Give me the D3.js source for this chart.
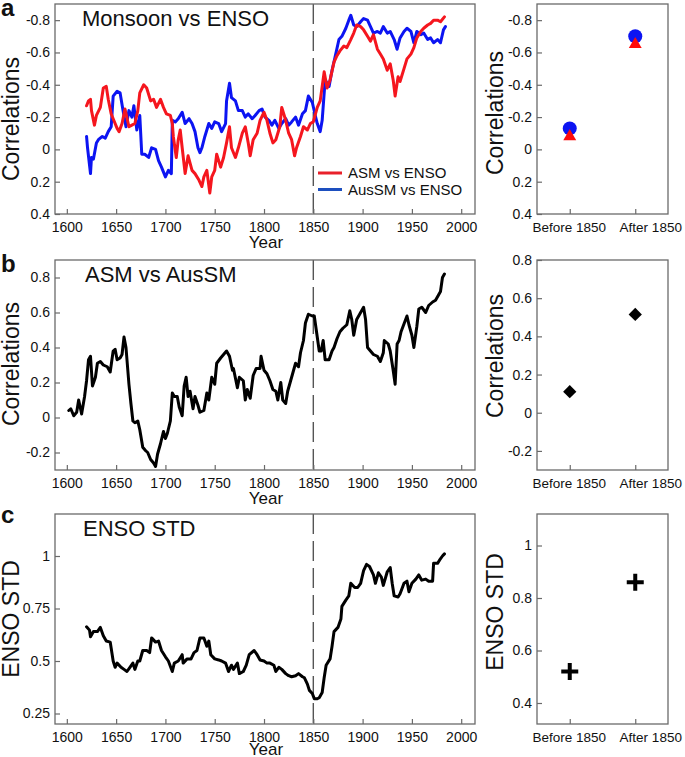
<!DOCTYPE html>
<html>
<head>
<meta charset="utf-8">
<script src="https://cdn.jsdelivr.net/npm/d3@7"></script>
<style>
  body { margin: 0; background: #fff; }
  text { font-family: "Liberation Sans", Arial, sans-serif; fill: #111; }
</style>
</head>
<body>
<svg id="chart" width="685" height="757"></svg>
<script>
// ---------------- DATA ----------------
const xTickYears = [1600, 1650, 1700, 1750, 1800, 1850, 1900, 1950, 2000];
const splitYear = 1850;
const periodCategories = ["Before 1850", "After 1850"];

// Panel a: ASM vs ENSO (red)
const asmEnsoYears = [1620,1622,1624,1625,1628,1630,1634,1637,1640,1642,
  1645,1647,1651,1653,1656,1659,1663,1666,1669,1672,
  1674,1678,1681,1685,1688,1691,1695,1698,1701,1705,
  1707,1708,1711,1713,1715,1717,1720,1723,1727,1730,
  1734,1737,1739,1742,1745,1747,1750,1752,1756,1759,
  1762,1765,1767,1771,1774,1778,1781,1784,1786,1789,
  1793,1796,1800,1803,1806,1809,1812,1816,1818,1822,
  1825,1828,1831,1833,1837,1840,1844,1847,1850,1854,
  1857,1861,1864,1867,1871,1874,1877,1881,1884,1888,
  1891,1894,1898,1901,1905,1908,1911,1915,1918,1921,
  1925,1928,1931,1933,1936,1938,1942,1945,1949,1952,
  1955,1959,1962,1966,1969,1972,1976,1979,1983];
const asmEnsoValues = [-0.27,-0.30,-0.31,-0.24,-0.15,-0.21,-0.26,-0.38,-0.39,-0.31,
  -0.22,-0.19,-0.13,-0.11,-0.16,-0.25,-0.14,-0.15,-0.16,-0.24,
  -0.35,-0.40,-0.38,-0.30,-0.31,-0.26,-0.31,-0.26,-0.22,-0.21,
  -0.16,-0.08,0.05,-0.06,-0.12,-0.01,0.15,0.04,0.13,0.15,
  0.19,0.23,0.17,0.13,0.27,0.17,0.13,0.03,0.11,0.05,
  -0.04,-0.14,-0.01,0.05,-0.01,-0.10,-0.14,-0.04,0.04,-0.06,
  -0.10,-0.18,-0.23,-0.18,-0.10,-0.04,-0.06,-0.14,-0.26,-0.18,
  -0.10,-0.06,0.04,-0.01,-0.08,-0.14,-0.12,-0.16,-0.17,-0.26,
  -0.30,-0.48,-0.38,-0.43,-0.54,-0.58,-0.61,-0.64,-0.63,-0.68,
  -0.72,-0.77,-0.76,-0.74,-0.70,-0.67,-0.71,-0.62,-0.59,-0.56,
  -0.49,-0.53,-0.43,-0.33,-0.45,-0.42,-0.50,-0.56,-0.59,-0.63,
  -0.69,-0.73,-0.75,-0.77,-0.78,-0.80,-0.80,-0.79,-0.82];

// Panel a: AusSM vs ENSO (blue)
const ausEnsoYears = [1620,1621,1624,1625,1627,1630,1632,1636,1639,1642,
  1645,1647,1651,1654,1657,1660,1663,1666,1668,1671,
  1674,1676,1679,1683,1686,1690,1693,1696,1700,1703,
  1706,1707,1710,1713,1717,1720,1724,1727,1730,1733,
  1735,1737,1740,1744,1747,1750,1754,1757,1761,1762,
  1765,1767,1771,1774,1778,1781,1784,1788,1791,1795,
  1798,1801,1805,1808,1811,1815,1818,1822,1825,1828,
  1832,1835,1839,1842,1845,1849,1852,1854,1857,1859,
  1862,1866,1869,1872,1876,1879,1883,1886,1888,1891,
  1894,1898,1901,1905,1908,1911,1915,1918,1921,1925,
  1928,1932,1935,1938,1942,1945,1949,1952,1955,1959,
  1962,1966,1969,1972,1976,1979,1982,1984];
const ausEnsoValues = [-0.08,-0.01,0.15,0.05,0.06,-0.04,-0.06,-0.08,-0.07,-0.11,
  -0.14,-0.33,-0.36,-0.35,-0.24,-0.14,-0.24,-0.20,-0.27,-0.12,
  -0.21,0.03,0.03,0.05,-0.01,0.00,0.07,0.11,0.17,0.13,
  0.15,-0.18,-0.17,-0.19,-0.23,-0.16,-0.19,-0.16,-0.11,-0.01,
  0.02,-0.01,-0.08,-0.16,-0.13,-0.17,-0.16,-0.11,-0.16,-0.30,
  -0.41,-0.32,-0.30,-0.24,-0.24,-0.20,-0.22,-0.19,-0.21,-0.24,
  -0.25,-0.20,-0.18,-0.15,-0.18,-0.13,-0.16,-0.19,-0.15,-0.17,
  -0.20,-0.15,-0.22,-0.24,-0.33,-0.29,-0.21,-0.16,-0.11,-0.18,
  -0.43,-0.39,-0.49,-0.57,-0.68,-0.70,-0.75,-0.80,-0.83,-0.77,
  -0.76,-0.79,-0.81,-0.80,-0.76,-0.72,-0.73,-0.72,-0.76,-0.72,
  -0.73,-0.68,-0.62,-0.69,-0.73,-0.75,-0.73,-0.66,-0.73,-0.71,
  -0.72,-0.68,-0.69,-0.66,-0.68,-0.66,-0.74,-0.76];

// Panel a right: period means
const ausEnsoPeriod = [-0.13, -0.70];
const asmEnsoPeriod = [-0.08, -0.65];

// Panel b: ASM vs AusSM
const asmAusYears = [1602,1604,1607,1610,1612,1615,1618,1620,1622,1624,
  1626,1629,1631,1634,1637,1641,1644,1647,1649,1651,
  1654,1656,1658,1660,1663,1665,1667,1669,1672,1674,
  1677,1680,1682,1685,1688,1690,1692,1695,1698,1700,
  1702,1705,1707,1709,1712,1714,1717,1719,1721,1723,
  1725,1728,1730,1733,1735,1739,1742,1744,1747,1750,
  1752,1756,1759,1762,1765,1768,1769,1773,1775,1779,
  1781,1783,1786,1789,1792,1796,1797,1800,1803,1806,
  1809,1812,1814,1817,1819,1822,1824,1827,1829,1832,
  1835,1837,1840,1842,1845,1849,1851,1853,1856,1858,
  1860,1862,1866,1869,1871,1874,1877,1880,1884,1887,
  1889,1891,1894,1897,1901,1903,1905,1908,1911,1915,
  1918,1921,1922,1926,1928,1931,1933,1935,1937,1939,
  1943,1945,1947,1950,1952,1955,1957,1960,1964,1967,
  1971,1974,1977,1979,1981,1983];
const asmAusValues = [0.04,0.05,0.01,0.03,0.10,0.02,0.12,0.21,0.33,0.35,
  0.18,0.23,0.31,0.32,0.30,0.29,0.26,0.38,0.39,0.33,
  0.34,0.36,0.46,0.40,0.19,0.08,-0.02,-0.03,-0.02,-0.07,
  -0.17,-0.19,-0.20,-0.24,-0.26,-0.28,-0.21,-0.15,-0.08,-0.12,
  -0.09,-0.02,0.14,0.12,0.12,0.06,0.01,0.18,0.23,0.12,
  0.15,0.05,0.12,0.07,0.03,0.04,0.14,0.10,0.23,0.19,
  0.31,0.34,0.36,0.38,0.35,0.27,0.28,0.17,0.23,0.21,
  0.10,0.16,0.11,0.24,0.28,0.28,0.35,0.27,0.25,0.21,
  0.16,0.15,0.10,0.20,0.10,0.08,0.15,0.21,0.25,0.31,
  0.29,0.37,0.44,0.54,0.59,0.58,0.58,0.50,0.38,0.38,
  0.44,0.33,0.33,0.38,0.40,0.45,0.49,0.51,0.53,0.61,
  0.56,0.47,0.56,0.59,0.63,0.56,0.40,0.38,0.36,0.35,
  0.32,0.37,0.44,0.42,0.38,0.27,0.19,0.42,0.44,0.49,
  0.55,0.58,0.53,0.47,0.40,0.52,0.62,0.63,0.60,0.64,
  0.66,0.67,0.70,0.72,0.80,0.82];
const asmAusPeriod = [0.11, 0.515];

// Panel c: ENSO STD
const ensoStdYears = [1620,1623,1624,1627,1631,1634,1637,1640,1644,1647,
  1649,1651,1655,1658,1661,1664,1667,1669,1672,1674,
  1677,1681,1684,1686,1690,1693,1696,1700,1703,1707,
  1709,1713,1717,1718,1722,1726,1729,1732,1735,1739,
  1742,1744,1746,1750,1754,1757,1761,1764,1767,1769,
  1773,1775,1779,1782,1785,1790,1793,1796,1800,1803,
  1806,1810,1812,1815,1818,1822,1825,1828,1832,1835,
  1839,1841,1844,1846,1849,1851,1854,1856,1859,1861,
  1863,1867,1869,1871,1875,1878,1879,1883,1886,1888,
  1892,1895,1898,1901,1904,1907,1911,1913,1916,1919,
  1921,1925,1928,1930,1932,1936,1938,1942,1945,1947,
  1950,1954,1957,1960,1964,1967,1971,1972,1976,1978,
  1981,1983];
const ensoStdValues = [0.663,0.647,0.615,0.64,0.64,0.66,0.62,0.595,0.59,0.50,
  0.47,0.49,0.47,0.46,0.45,0.47,0.49,0.46,0.50,0.50,
  0.55,0.55,0.54,0.61,0.59,0.595,0.55,0.52,0.50,0.45,
  0.49,0.50,0.53,0.49,0.51,0.51,0.54,0.55,0.61,0.61,
  0.57,0.595,0.53,0.51,0.505,0.50,0.49,0.45,0.48,0.46,
  0.49,0.44,0.45,0.48,0.53,0.55,0.53,0.505,0.50,0.49,
  0.49,0.48,0.45,0.47,0.46,0.44,0.43,0.425,0.43,0.44,
  0.425,0.42,0.39,0.36,0.345,0.32,0.32,0.325,0.35,0.42,
  0.48,0.51,0.57,0.64,0.66,0.70,0.76,0.79,0.81,0.87,
  0.85,0.85,0.87,0.93,0.96,0.95,0.91,0.87,0.92,0.90,
  0.86,0.925,0.945,0.87,0.81,0.805,0.82,0.87,0.88,0.83,
  0.87,0.89,0.91,0.885,0.89,0.88,0.88,0.965,0.965,0.98,
  1.0,1.01];
const ensoStdPeriod = [0.52, 0.86];

// Tick values / labels
const aTicks = [-0.8,-0.6,-0.4,-0.2,0,0.2,0.4];
const aTickLabels = ["-0.8","-0.6","-0.4","-0.2","0","0.2","0.4"];
const bTicks = [-0.2,0,0.2,0.4,0.6,0.8];
const bTickLabels = ["-0.2","0","0.2","0.4","0.6","0.8"];
const cTicks = [0.25,0.5,0.75,1];
const cTickLabels = ["0.25","0.5","0.75","1"];
const cRightTicks = [0.4,0.6,0.8,1];
const cRightTickLabels = ["0.4","0.6","0.8","1"];

const legendLabels = ["ASM vs ENSO", "AusSM vs ENSO"];

// ---------------- DRAW ----------------
const svg = d3.select("#chart");
svg.append("rect").attr("width",685).attr("height",757).attr("fill","#fff");

const RED = "#f5161e", BLUE = "#0c14f2", FRAME = "#6a6a6a";
const LX = [55, 475], RX = [537, 668];
const rows = { a:[4,214], b:[260,470], c:[514,724] };
const FONT = "'Liberation Sans', Arial, sans-serif";

const xYear = d3.scaleLinear().domain([1588, 2014]).range(LX);
const xCat = d3.scalePoint().domain(periodCategories).range(RX).padding(0.5);

function frame(g, xr, yr) {
  g.append("rect").attr("x", xr[0]).attr("y", yr[0])
    .attr("width", xr[1]-xr[0]).attr("height", yr[1]-yr[0])
    .attr("fill","none").attr("stroke",FRAME).attr("stroke-width",1.3);
}

function yAxis(g, y, xPos, ticks, labels) {
  const ax = g.append("g").attr("transform",`translate(${xPos},0)`)
    .call(d3.axisRight(y).tickValues(ticks).tickSize(5)
      .tickFormat((d,i)=>labels[i]));
  ax.select(".domain").remove();
  ax.selectAll(".tick line").attr("stroke",FRAME).attr("stroke-width",1.2);
  ax.selectAll(".tick text").attr("x",-5).attr("text-anchor","end")
    .style("font-size","14px").style("font-family",FONT).attr("fill","#111");
}

function xAxisYear(g, yPos) {
  const ax = g.append("g").attr("transform",`translate(0,${yPos})`)
    .call(d3.axisTop(xYear).tickValues(xTickYears).tickSize(5).tickFormat(d3.format("d")));
  ax.select(".domain").remove();
  ax.selectAll(".tick line").attr("stroke",FRAME).attr("stroke-width",1.2);
  ax.selectAll(".tick text").attr("y",18).attr("dy",0)
    .style("font-size","14px").style("font-family",FONT).attr("fill","#111");
  g.append("text").attr("x", (xYear(1600)+xYear(2000))/2+2).attr("y", Math.min(yPos+34, 755))
    .attr("text-anchor","middle").style("font-size","17px").text("Year");
}

function xAxisCat(g, yPos) {
  const ax = g.append("g").attr("transform",`translate(0,${yPos})`)
    .call(d3.axisTop(xCat).tickSize(5));
  ax.select(".domain").remove();
  ax.selectAll(".tick line").attr("stroke",FRAME).attr("stroke-width",1.2);
  ax.selectAll(".tick text").attr("y",18).attr("dy",0)
    .attr("x",(d,i)=> i === 1 ? 15 : -1)
    .style("font-size","13.5px").style("font-family",FONT).attr("fill","#111");
}

function yTitle(g, x, yc, txt) {
  g.append("text").attr("transform",`translate(${x},${yc}) rotate(-90)`)
    .attr("text-anchor","middle").style("font-size","23px").text(txt);
}

function splitLine(g, yr) {
  g.append("line").attr("x1",xYear(splitYear)).attr("x2",xYear(splitYear))
    .attr("y1",yr[0]).attr("y2",yr[1])
    .attr("stroke","#555").attr("stroke-width",1.4).attr("stroke-dasharray","20,7");
}

function series(g, y, years, values, color) {
  const line = d3.line().x(d=>xYear(d[0])).y(d=>y(d[1]));
  g.append("path").datum(d3.zip(years, values)).attr("d", line)
    .attr("fill","none").attr("stroke",color).attr("stroke-width",3)
    .attr("stroke-linejoin","round").attr("stroke-linecap","round");
}

function panelLetter(x, y, l) {
  svg.append("text").attr("x",x).attr("y",y).style("font-size","24px")
    .style("font-weight","bold").text(l);
}
function panelTitle(x, y, t) {
  svg.append("text").attr("x",x).attr("y",y).style("font-size","22px").text(t);
}

// ---- Panel a ----
{
  const g = svg.append("g");
  const y = d3.scaleLinear().domain([-0.9, 0.4]).range(rows.a);
  splitLine(g, rows.a);
  series(g, y, ausEnsoYears, ausEnsoValues, BLUE);
  series(g, y, asmEnsoYears, asmEnsoValues, RED);
  frame(g, LX, rows.a);
  yAxis(g, y, LX[0], aTicks, aTickLabels);
  xAxisYear(g, rows.a[1]);
  yTitle(g, 19, 119, "Correlations");
  // legend
  const leg = ["#e8202a","#1d4fbf"];
  legendLabels.forEach((lab,i)=>{
    const ly = 173 + i*16.5;
    g.append("line").attr("x1",318).attr("x2",342).attr("y1",ly).attr("y2",ly)
      .attr("stroke",leg[i]).attr("stroke-width",3);
    g.append("text").attr("x",348).attr("y",ly+5).style("font-size","15px").text(lab);
  });

  const gr = svg.append("g");
  const yr = d3.scaleLinear().domain([-0.9, 0.4]).range(rows.a);
  frame(gr, RX, rows.a);
  yAxis(gr, yr, RX[0], aTicks, aTickLabels);
  xAxisCat(gr, rows.a[1]);
  yTitle(gr, 503, 113, "Correlations");
  gr.selectAll(".circ").data(ausEnsoPeriod).join("circle")
    .attr("cx",(d,i)=>xCat(periodCategories[i])).attr("cy",d=>yr(d))
    .attr("r",7).attr("fill",BLUE);
  gr.selectAll(".tri").data(asmEnsoPeriod).join("path")
    .attr("transform",(d,i)=>`translate(${xCat(periodCategories[i])},${yr(d)})`)
    .attr("d", d3.symbol(d3.symbolTriangle, 72)).attr("fill","#ff0a0a");
}

// ---- Panel b ----
{
  const g = svg.append("g");
  const y = d3.scaleLinear().domain([-0.3, 0.9]).range([rows.b[1], rows.b[0]]);
  splitLine(g, rows.b);
  series(g, y, asmAusYears, asmAusValues, "#000");
  frame(g, LX, rows.b);
  yAxis(g, y, LX[0], bTicks, bTickLabels);
  xAxisYear(g, rows.b[1]);
  yTitle(g, 19, 364, "Correlations");

  const gr = svg.append("g");
  const yr = d3.scaleLinear().domain([-0.3, 0.8]).range([rows.b[1], rows.b[0]]);
  frame(gr, RX, rows.b);
  yAxis(gr, yr, RX[0], bTicks, bTickLabels);
  xAxisCat(gr, rows.b[1]);
  yTitle(gr, 503, 356, "Correlations");
  gr.selectAll(".dia").data(asmAusPeriod).join("path")
    .attr("transform",(d,i)=>`translate(${xCat(periodCategories[i])},${yr(d)}) rotate(45)`)
    .attr("d", d3.symbol(d3.symbolSquare, 88)).attr("fill","#000");
}

// ---- Panel c ----
{
  const g = svg.append("g");
  const y = d3.scaleLinear().domain([0.2, 1.2]).range([rows.c[1], rows.c[0]]);
  splitLine(g, rows.c);
  series(g, y, ensoStdYears, ensoStdValues, "#000");
  frame(g, LX, rows.c);
  yAxis(g, y, LX[0], cTicks, cTickLabels);
  xAxisYear(g, rows.c[1]);
  yTitle(g, 19, 619, "ENSO STD");

  const gr = svg.append("g");
  const yr = d3.scaleLinear().domain([0.32, 1.12]).range([rows.c[1], rows.c[0]]);
  frame(gr, RX, rows.c);
  yAxis(gr, yr, RX[0], cRightTicks, cRightTickLabels);
  xAxisCat(gr, rows.c[1]);
  yTitle(gr, 503, 612, "ENSO STD");
  gr.selectAll(".plus").data(ensoStdPeriod).join("path")
    .attr("transform",(d,i)=>`translate(${xCat(periodCategories[i])},${yr(d)})`)
    .attr("d", () => { const p = d3.path(); p.moveTo(-8.5,0); p.lineTo(8.5,0); p.moveTo(0,-8.5); p.lineTo(0,8.5); return p.toString(); })
    .attr("stroke","#000").attr("stroke-width",4).attr("fill","none");
}

panelLetter(1, 16, "a");
panelLetter(1, 272, "b");
panelLetter(1, 523, "c");
panelTitle(82, 26, "Monsoon vs ENSO");
panelTitle(85, 282, "ASM vs AusSM");
panelTitle(83, 536, "ENSO STD");
</script>
</body>
</html>
